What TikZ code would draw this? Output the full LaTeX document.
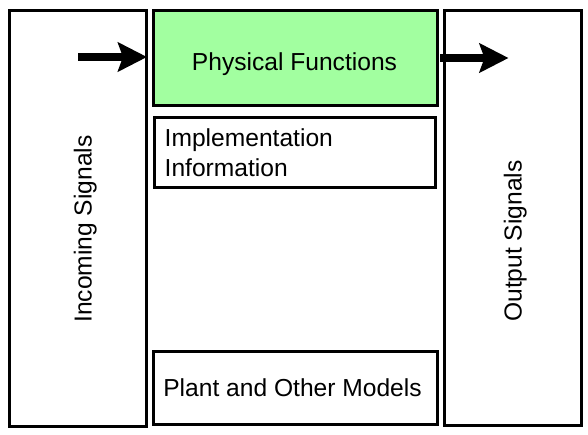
\documentclass[tikz,border=0pt]{standalone}
\usepackage{fontspec}
\setmainfont{Liberation Sans}
\usetikzlibrary{arrows.meta}
\definecolor{physgreen}{RGB}{162,255,160}
\begin{document}
\begin{tikzpicture}[x=1pt,y=-1pt,
  panel/.style={draw=black,line width=3pt,fill=white},
  txt/.style={inner sep=0pt,font=\fontsize{24.6}{30}\selectfont},
  bigarrow/.style={line width=8pt,-{Stealth[length=29pt,width=29pt,inset=5pt]}}]
\useasboundingbox (0,0) rectangle (588,434);
% boxes
\draw[panel] (9,10) rectangle (146.5,426.5);
\draw[panel] (444,10) rectangle (581.5,425.5);
\draw[panel,fill=physgreen] (153,10.5) rectangle (437,105.5);
\draw[panel] (154,117) rectangle (435.5,187.5);
\draw[panel] (153,351) rectangle (437.5,424.5);
% texts
\node[txt,anchor=base] (phys) at (294.5,70) {Physical Functions};
\node[txt,anchor=base west] (impl1) at (164.5,146.5) {Implementation};
\node[txt,anchor=base west] (impl2) at (164.5,176) {Information};
\node[txt,anchor=base] (plant) at (292.5,396.5) {Plant and Other Models};
\node[txt,anchor=base,rotate=90] (insig) at (91.5,229) {Incoming Signals};
\node[txt,anchor=base,rotate=90] (outsig) at (521.5,241) {Output Signals};
% arrows
\coordinate (a1s) at (78,57);
\coordinate (a1e) at (147,57);
\coordinate (a2s) at (440,58);
\coordinate (a2e) at (508.5,58);
\draw[bigarrow] (a1s) -- (a1e);
\draw[bigarrow] (a2s) -- (a2e);
\end{tikzpicture}
\end{document}
